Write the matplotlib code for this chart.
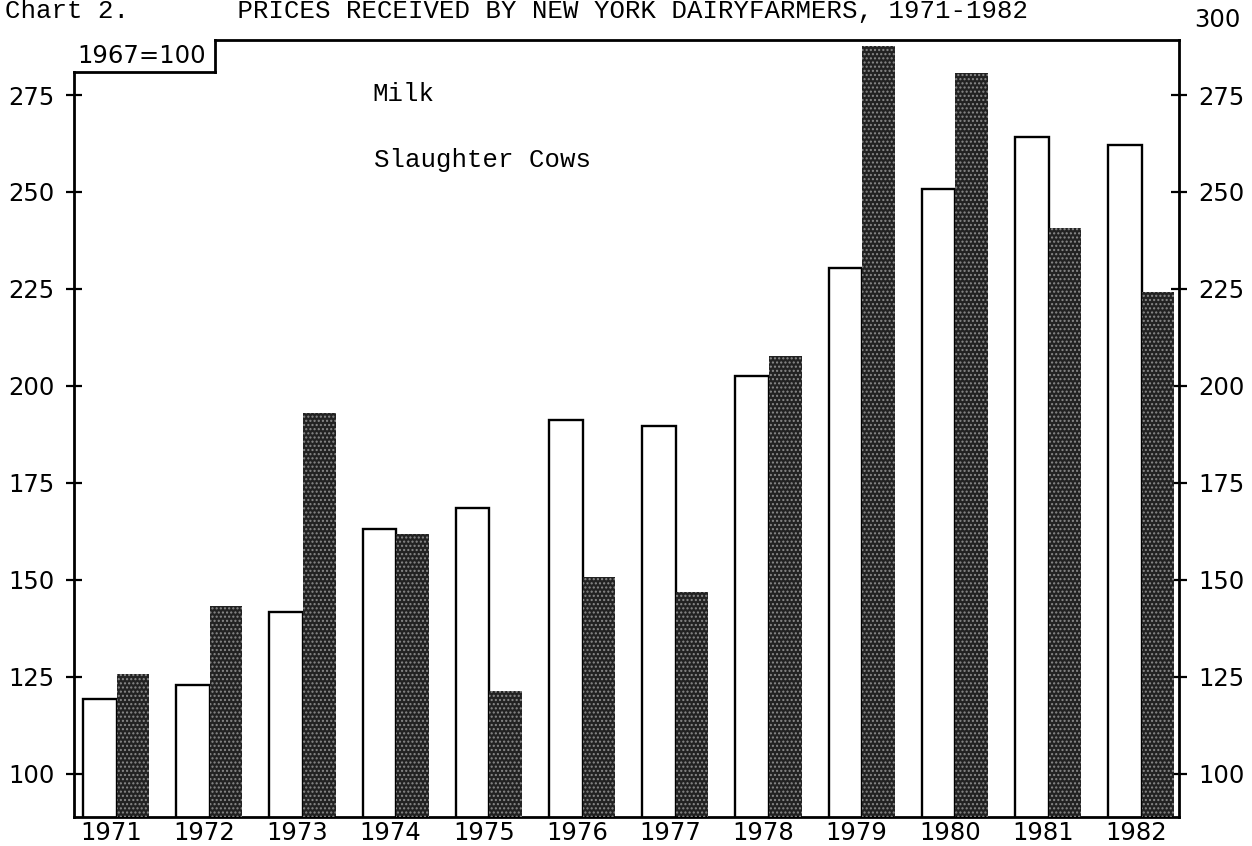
import numpy as np
import matplotlib
matplotlib.use('Agg')
from matplotlib import pyplot as plt
import matplotlib.transforms as mtransforms

# prices received, 1967=100
years = ['1971', '1972', '1973', '1974', '1975', '1976',
         '1977', '1978', '1979', '1980', '1981', '1982']
milk = [119.3, 122.9, 141.8, 163.2, 168.4, 191.2,
        189.7, 202.6, 230.4, 250.8, 264.2, 262.1]
cows = [125.8, 143.3, 193.1, 161.7, 121.2, 150.6,
        146.9, 207.7, 287.7, 280.6, 240.7, 224.2]
yticks = [100, 125, 150, 175, 200, 225, 250, 275]

ymin, ymax = 88.8, 289.2
boxtop = 281.0

plt.rcParams['hatch.color'] = '#8a8a8a'
plt.rcParams['hatch.linewidth'] = 1.0

tickfont = dict(family='DejaVu Sans', size=17.5)
typefont = dict(family='Liberation Mono', size=18.5)

f = plt.figure(figsize=(12.52, 8.46), dpi=100)
ax = f.add_axes([74/1252, 29/846, 1105/1252, 777/846])

x = np.arange(len(years))
mw = 0.36
cw = 0.35
ax.bar(x, milk, width=mw, align='edge', facecolor='white',
       edgecolor='black', linewidth=1.7, zorder=2)
ax.bar(x + mw, cows, width=cw, align='edge', facecolor='#222222',
       edgecolor='none', linewidth=0, zorder=2)
ax.bar(x + mw, cows, width=cw, align='edge', facecolor='none',
       edgecolor='#8a8a8a', linewidth=0, hatch='....', zorder=3)

ax.set_xlim(-0.097, 11.76)
ax.set_ylim(ymin, ymax)

ax.set_xticks(x + 0.3)
ax.set_xticklabels(years, fontdict=tickfont)
ax.set_yticks(yticks)
ax.set_yticklabels([str(v) for v in yticks], fontdict=tickfont)
ax.tick_params(axis='x', length=0, pad=3)
ax.tick_params(axis='y', direction='inout', length=12, width=1.6,
               pad=8, right=True, labelright=True)
for lab in ax.get_yticklabels():
    lab.set_fontfamily('DejaVu Sans')
    lab.set_fontsize(17.5)

for s in ['left', 'right', 'bottom']:
    ax.spines[s].set_linewidth(2)
ax.spines['top'].set_visible(False)
ax.spines['left'].set_bounds(ymin, boxtop)

# stepped frame around the 1967=100 note
tr = mtransforms.blended_transform_factory(ax.transAxes, ax.transData)
bx = 141/1105
ax.plot([0, bx], [boxtop, boxtop], color='black', lw=2, transform=tr, clip_on=False)
ax.plot([bx, bx], [boxtop, ymax], color='black', lw=2, transform=tr, clip_on=False)
ax.plot([bx, 1], [ymax, ymax], color='black', lw=2, transform=tr, clip_on=False)
ax.text(0.003, boxtop + 1.0, '1967=100', transform=tr, ha='left', va='bottom', **tickfont)

ax.text(1.014, 1.0 + 20/777, '300', transform=ax.transAxes, ha='left', va='center', **tickfont)

ax.text(298/1105, 275.2, 'Milk', transform=tr, ha='left', va='center', **typefont)
ax.text(300/1105, 258.3, 'Slaughter Cows', transform=tr, ha='left', va='center', **typefont)

f.text(5/1252, 1 - 18/846, 'Chart 2.       PRICES RECEIVED BY NEW YORK DAIRYFARMERS, 1971-1982',
       ha='left', va='baseline', **typefont)

plt.savefig('out.png', dpi=100)
